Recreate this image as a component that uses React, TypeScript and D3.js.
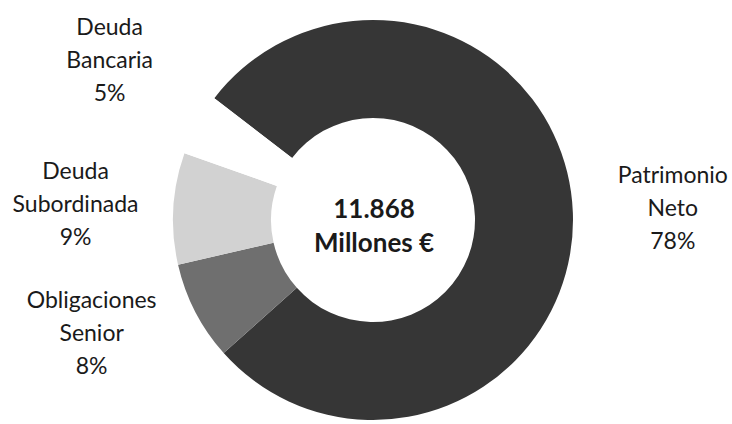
import React from "react";
import * as d3 from "d3";

const categories = ["Patrimonio Neto", "Obligaciones Senior", "Deuda Subordinada", "Deuda Bancaria"];
const values = [78, 8, 9, 5];
const labelLines = [["Patrimonio", "Neto"], ["Obligaciones", "Senior"], ["Deuda", "Subordinada"], ["Deuda", "Bancaria"]];
const centerLines = ["11.868", "Millones €"];

const colors = ["#363636", "#6f6f6f", "#d2d2d2", "#ffffff"];
const labelNudge = [[-2, 0], [-13, -25], [4, 2], [2, -15]];

export default function App() {
  const W = 732, H = 424;
  const cx = 373, cy = 220;
  const outerR = 200, innerR = 102, labelR = 302;
  const start = (-52.5 * Math.PI) / 180;
  const pie = d3.pie<number>().sort(null).value((d) => d).startAngle(start).endAngle(start + 2 * Math.PI);
  const arcs = pie(values);
  const arc = d3.arc<d3.PieArcDatum<number>>().innerRadius(innerR).outerRadius(outerR);
  const labelArc = d3.arc<d3.PieArcDatum<number>>().innerRadius(labelR).outerRadius(labelR);
  const font = "Lato, 'Open Sans', sans-serif";
  const lh = 33;
  return (
    <svg width={W} height={H} style={{ position: "absolute", left: 0, top: 0, background: "#fff" }}>
      <g transform={`translate(${cx},${cy})`}>
        {arcs.map((a, i) => (
          <path key={categories[i]} d={arc(a) || ""} fill={colors[i]} />
        ))}
        {arcs.map((a, i) => {
          const [x, y] = labelArc.centroid(a);
          const lx = x + labelNudge[i][0];
          const ly = y + labelNudge[i][1];
          const lines = [...labelLines[i], `${values[i]}%`];
          return (
            <text key={"l" + i} x={lx} y={ly} textAnchor="middle" fontFamily={font} fontSize={23} fill="#1a1a1a">
              {lines.map((t, j) => (
                <tspan key={j} x={lx} y={ly + (j - 1) * lh + 7}>{t}</tspan>
              ))}
            </text>
          );
        })}
        <text textAnchor="middle" fontFamily={font} fontWeight="bold" fontSize={26} fill="#1a1a1a">
          {centerLines.map((t, j) => (
            <tspan key={j} x={1} y={-2 + j * 34}>{t}</tspan>
          ))}
        </text>
      </g>
    </svg>
  );
}
